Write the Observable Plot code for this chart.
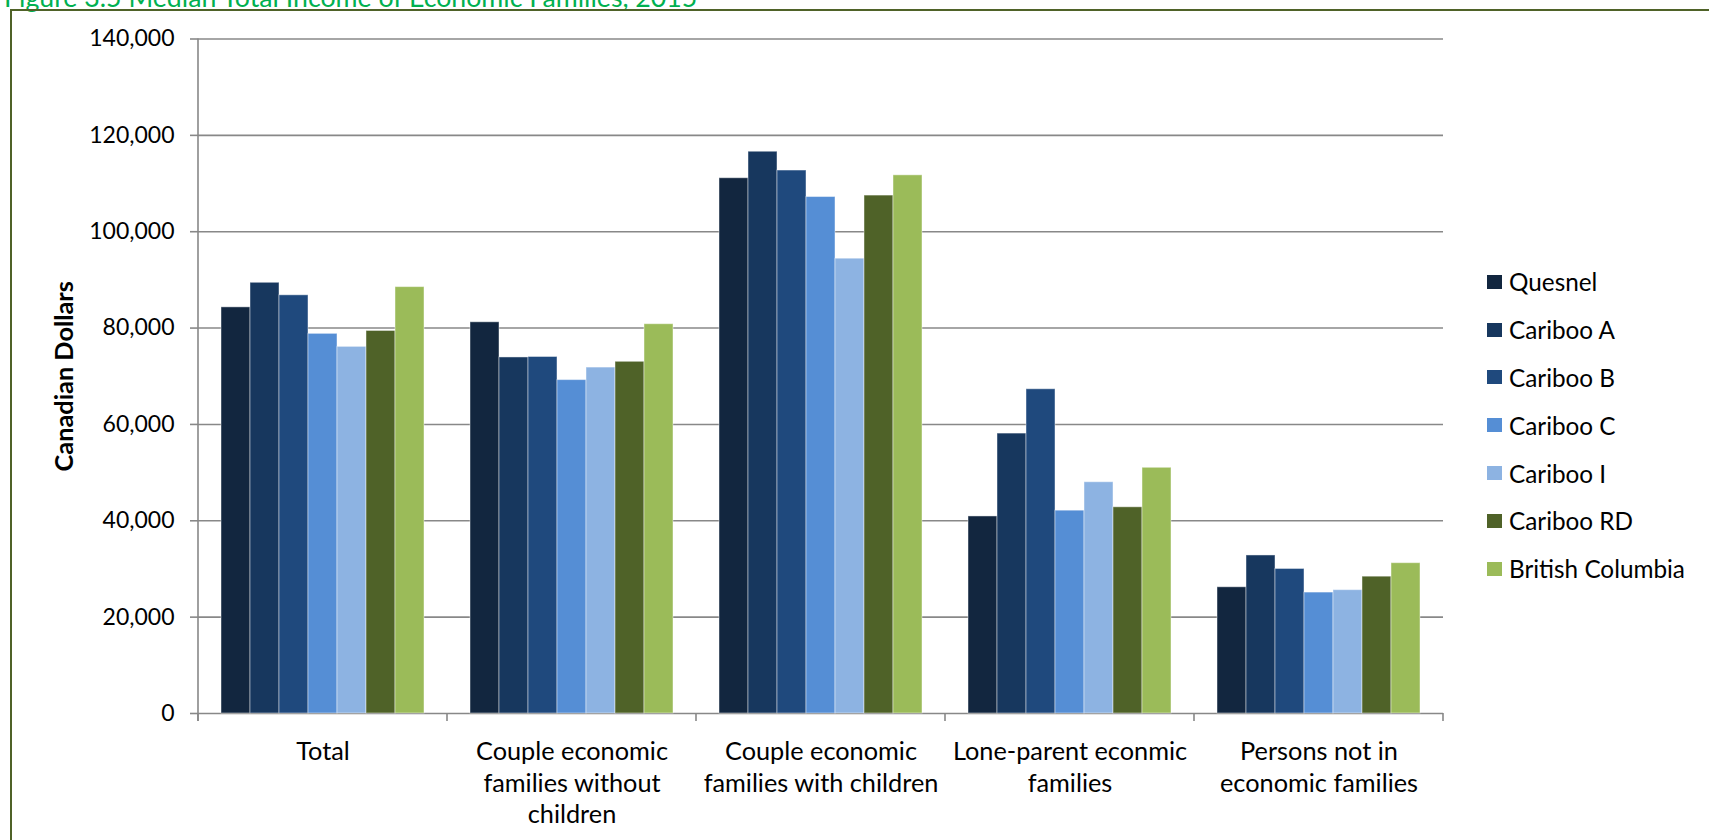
<!DOCTYPE html>
<html>
<head>
<meta charset="utf-8">
<script src="https://cdn.jsdelivr.net/npm/d3@7"></script>
<script src="https://cdn.jsdelivr.net/npm/@observablehq/plot@0.6"></script>
<style>
  html, body { margin: 0; padding: 0; background: #fff; overflow: hidden; }
  body { position: relative; width: 1709px; height: 840px; font-family: Lato, "Open Sans", sans-serif; }
  #title { position: absolute; left: 4px; top: -18.5px; font-size: 26.7px; color: #00B050; white-space: nowrap; line-height: 30px; }
  #frame { position: absolute; left: 10px; top: 9px; width: 1800px; height: 900px; border-left: 2px solid #4F6228; border-top: 2px solid #4F6228; }
  #chart { position: absolute; left: 0; top: 0; }
  #legend { position: absolute; left: 1487px; top: 258px; }
  .row { position: relative; height: 47.8px; display: flex; align-items: center; }
  .sw { width: 15px; height: 14px; margin-right: 7px; flex: none; }
  .lab { font-size: 24.3px; color: #000; white-space: nowrap; }
  g[aria-label="y-axis label"] text { font-weight: bold; font-size: 25.3px; }
</style>
</head>
<body>
<div id="title"></div>
<div id="frame"></div>
<div id="chart"></div>
<div id="legend"></div>
<script>
// Median total income of economic families by family type and area
const titleText = "Figure 3.5 Median Total Income of Economic Families, 2015";

const categories = [
  "Total",
  "Couple economic families without children",
  "Couple economic families with children",
  "Lone-parent econmic families",
  "Persons not in economic families"
];
const categoryLabels = [
  "Total",
  "Couple economic\nfamilies without\nchildren",
  "Couple economic\nfamilies with children",
  "Lone-parent econmic\nfamilies",
  "Persons not in\neconomic families"
];

const series = ["Quesnel", "Cariboo A", "Cariboo B", "Cariboo C", "Cariboo I", "Cariboo RD", "British Columbia"];
const seriesColors = ["#12263F", "#17375E", "#1F497D", "#558ED5", "#8DB3E2", "#4F6228", "#9BBB59"];

const quesnel   = [84300, 81200, 111100, 40900, 26200];
const caribooA  = [89400, 73900, 116600, 58100, 32800];
const caribooB  = [86800, 74000, 112700, 67300, 30000];
const caribooC  = [78800, 69200, 107200, 42100, 25100];
const caribooI  = [76100, 71800,  94400, 48000, 25600];
const caribooRD = [79400, 73000, 107500, 42800, 28400];
const britishColumbia = [88500, 80800, 111700, 51000, 31200];

const yTicks = [0, 20000, 40000, 60000, 80000, 100000, 120000, 140000];
const yLabel = "Canadian Dollars";

const valuesBySeries = [quesnel, caribooA, caribooB, caribooC, caribooI, caribooRD, britishColumbia];
const rows = [];
categories.forEach((c, i) => {
  series.forEach((s, j) => rows.push({category: c, series: s, value: valuesBySeries[j][i]}));
});
const labelFor = new Map(categories.map((c, i) => [c, categoryLabels[i]]));

document.getElementById("title").textContent = titleText;

const gridColor = "#888888";

const chart = Plot.plot({
  width: 1709,
  height: 840,
  marginLeft: 196,
  marginRight: 265,
  marginTop: 38.5,
  marginBottom: 127,
  style: {fontFamily: "Lato, 'Open Sans', sans-serif", fontSize: "23px", color: "#000", background: "transparent", overflow: "visible"},
  fx: {domain: categories, paddingInner: 0, paddingOuter: 0, label: null},
  x: {domain: series, paddingInner: 0, paddingOuter: 0.79, axis: null},
  y: {domain: [0, 140000], label: null},
  color: {domain: series, range: seriesColors},
  marks: [
    Plot.gridY(yTicks, {stroke: gridColor, strokeOpacity: 1, strokeWidth: 1.6}),
    Plot.barY(rows, {fx: "category", x: "series", y: "value", fill: "series", stroke: "#ffffff", strokeOpacity: 0.45, strokeWidth: 1}),
    Plot.axisY({ticks: yTicks, tickFormat: d3.format(","), tickSize: 8, tickPadding: 16, stroke: gridColor, strokeWidth: 1.6, fontSize: 23,
      label: yLabel, labelAnchor: "center", labelArrow: "none", labelOffset: 143}),
    Plot.axisFx({anchor: "bottom", tickSize: 0, tickPadding: 24, fontSize: 25.3, lineHeight: 1.25, label: null,
      tickFormat: (d) => labelFor.get(d)})
  ]
});

document.getElementById("chart").appendChild(chart);

// Value axis line and category boundary ticks, placed with the chart's own scales
const fx = chart.scale("fx");
const ys = chart.scale("y");
const yBase = ys.apply(0);
const yTop = ys.apply(140000);
const svg = d3.select(chart);
const g = svg.append("g").attr("stroke", gridColor).attr("stroke-width", 1.6);
const x0 = fx.apply(categories[0]);
g.append("line").attr("x1", x0).attr("x2", x0).attr("y1", yTop).attr("y2", yBase + 8);
const edges = categories.map((c) => fx.apply(c)).concat([fx.apply(categories[categories.length - 1]) + fx.bandwidth]);
edges.forEach((x) => {
  g.append("line").attr("x1", x).attr("x2", x).attr("y1", yBase).attr("y2", yBase + 8);
});

// Legend
const legend = d3.select("#legend");
series.forEach((s, i) => {
  const row = legend.append("div").attr("class", "row");
  row.append("div").attr("class", "sw").style("background", seriesColors[i]);
  row.append("div").attr("class", "lab").text(s);
});
</script>
</body>
</html>
